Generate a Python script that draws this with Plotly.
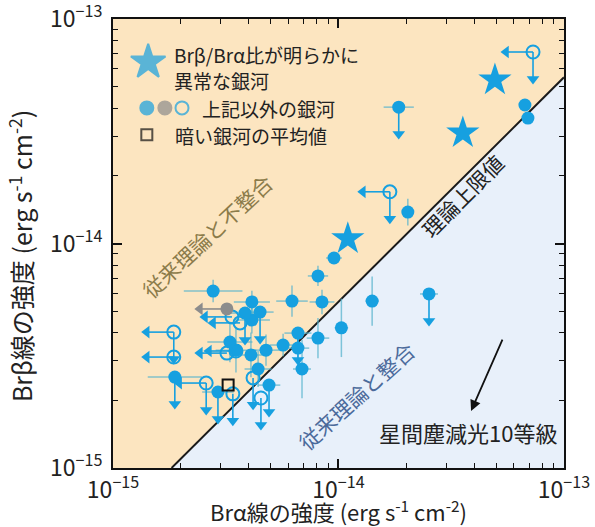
import plotly.graph_objects as go

UNIT = 1e-15          # all intensities below are in units of 1e-15 erg s^-1 cm^-2
RATIO = 0.55          # theoretical upper limit of Brβ/Brα
ARROW_DEX = 0.12      # length of upper-limit arrows in dex

# Galaxies with a clearly anomalous Brβ/Brα ratio
star_bra = [11.0, 35.6, 49.4]
star_brb = [10.5, 31.1, 53.5]

# Other galaxies: detections in both lines (errors in dex)
det_bra = [67.1, 69.2, 20.3, 9.55, 8.11, 6.22, 8.45, 14.1, 4.13, 10.3, 8.11, 5.68, 6.61,
           4.77, 6.89, 2.78, 4.13, 3.30, 3.51, 4.09, 4.40]
det_brb = [41.4, 36.2, 13.8, 8.62, 7.17, 5.54, 5.49, 5.54, 5.49, 4.21, 3.79, 3.53, 3.42,
           3.35, 2.76, 6.14, 4.56, 3.64, 3.35, 3.19, 2.76]
det_xerr = [0.02, 0.02, 0.00, 0.035, 0.045, 0.07, 0.055, 0.03, 0.08, 0.03, 0.05, 0.06, 0.05,
            0.07, 0.04, 0.13, 0.08, 0.10, 0.09, 0.08, 0.06]
det_yerr = [0.02, 0.02, 0.06, 0.00, 0.045, 0.07, 0.055, 0.11, 0.05, 0.13, 0.09, 0.05, 0.05,
            0.07, 0.13, 0.05, 0.06, 0.09, 0.10, 0.10, 0.08]

# Other galaxies: Brβ upper limits
ulb_bra = [18.5, 25.2, 4.49, 6.61, 4.92, 3.85, 1.88, 2.92]
ulb_brb = [40.5, 5.96, 4.95, 3.99, 2.34, 4.90, 2.54, 2.18]
ulb_xerr = [0.067, 0.04, 0.06, 0.06, 0.05, 0.07, 0.12, 0.07]

# Other galaxies: open symbols (Brα upper limit and/or Brβ upper limit)
open_bra = [72.9, 16.9, 3.37, 3.66, 1.86, 1.86, 3.20, 3.51, 2.59, 3.40, 4.53, 4.18]
open_brb = [71.3, 17.0, 4.71, 4.43, 4.03, 3.12, 3.25, 3.32, 2.39, 2.14, 2.05, 2.52]
open_left = [1, 1, 1, 1, 1, 1, 1, 1, 1, 0, 0, 0]
open_down = [1, 1, 0, 0, 1, 0, 0, 0, 1, 1, 1, 1]

# Other galaxy shown in grey (Brα upper limit)
grey_bra = [3.20]
grey_brb = [5.11]

# Mean of the faint galaxies
mean_bra = [3.24]
mean_brb = [2.34]

# Extinction vector for 10 mag of interstellar dust (log10 of intensity)
ext_tail = (-13.270, -14.421)
ext_head = (-13.412, -14.746)

BLUE = "#16a0e0"
GREY = "#8c8c8c"
ERR = "rgba(90,180,205,0.75)"
FONT = "Noto Sans CJK JP, Noto Sans, sans-serif"

XMIN, XMAX = 1e-15, 1e-13
YMIN, YMAX = 1e-15, 1e-13


def scale(v):
    return [a * UNIT for a in v]


def asym(vals, dex):
    up = [v * UNIT * (10 ** d - 1) for v, d in zip(vals, dex)]
    lo = [v * UNIT * (1 - 10 ** -d) for v, d in zip(vals, dex)]
    return up, lo


fig = go.Figure()

# Regions above / below the theoretical limit
x0 = YMIN / RATIO
fig.add_trace(go.Scatter(
    x=[XMIN, x0, XMAX, XMAX, XMIN], y=[YMIN, YMIN, RATIO * XMAX, YMAX, YMAX],
    fill="toself", fillcolor="#fce5c0", line=dict(width=0), mode="lines",
    hoverinfo="skip", showlegend=False))
fig.add_trace(go.Scatter(
    x=[x0, XMAX, XMAX, x0], y=[YMIN, YMIN, RATIO * XMAX, YMIN],
    fill="toself", fillcolor="#e8f0fa", line=dict(width=0), mode="lines",
    hoverinfo="skip", showlegend=False))
# Theoretical upper limit line
fig.add_trace(go.Scatter(
    x=[x0, XMAX], y=[YMIN, RATIO * XMAX], mode="lines",
    line=dict(color="#1a1a1a", width=2), hoverinfo="skip", showlegend=False))


def add_arrows(xs, ys, direction, color):
    lx, ly, tx, ty = [], [], [], []
    f = 10 ** -ARROW_DEX
    for x, y in zip(xs, ys):
        x, y = x * UNIT, y * UNIT
        if direction == "down":
            ex, ey = x, y * f
        else:
            ex, ey = x * f, y
        lx += [x, ex, None]
        ly += [y, ey, None]
        tx.append(ex)
        ty.append(ey)
    fig.add_trace(go.Scatter(x=lx, y=ly, mode="lines", line=dict(color=color, width=1.6),
                             hoverinfo="skip", showlegend=False))
    fig.add_trace(go.Scatter(
        x=tx, y=ty, mode="markers",
        marker=dict(symbol="triangle-down" if direction == "down" else "triangle-left",
                    size=11, color=color, line=dict(width=0)),
        hoverinfo="skip", showlegend=False))


# Detections with error bars
dxu, dxl = asym(det_bra, det_xerr)
dyu, dyl = asym(det_brb, det_yerr)
fig.add_trace(go.Scatter(
    x=scale(det_bra), y=scale(det_brb), mode="markers",
    marker=dict(color=BLUE, size=13),
    error_x=dict(type="data", array=dxu, arrayminus=dxl, color=ERR, thickness=1.5, width=0),
    error_y=dict(type="data", array=dyu, arrayminus=dyl, color=ERR, thickness=1.5, width=0),
    showlegend=False))

# Brβ upper limits (filled)
uxu, uxl = asym(ulb_bra, ulb_xerr)
add_arrows(ulb_bra, ulb_brb, "down", BLUE)
fig.add_trace(go.Scatter(
    x=scale(ulb_bra), y=scale(ulb_brb), mode="markers",
    marker=dict(color=BLUE, size=13),
    error_x=dict(type="data", array=uxu, arrayminus=uxl, color=ERR, thickness=1.5, width=0),
    showlegend=False))

# Open symbols with arrows
add_arrows([x for x, k in zip(open_bra, open_left) if k],
           [y for y, k in zip(open_brb, open_left) if k], "left", BLUE)
add_arrows([x for x, k in zip(open_bra, open_down) if k],
           [y for y, k in zip(open_brb, open_down) if k], "down", BLUE)
fig.add_trace(go.Scatter(
    x=scale(open_bra), y=scale(open_brb), mode="markers",
    marker=dict(symbol="circle-open", color=BLUE, size=13, line=dict(width=2)),
    showlegend=False))

# Grey galaxy
add_arrows(grey_bra, grey_brb, "left", GREY)
fig.add_trace(go.Scatter(
    x=scale(grey_bra), y=scale(grey_brb), mode="markers",
    marker=dict(color=GREY, size=13), showlegend=False))

# Anomalous galaxies
fig.add_trace(go.Scatter(
    x=scale(star_bra), y=scale(star_brb), mode="markers",
    marker=dict(symbol="star", color=BLUE, size=25, line=dict(width=0)),
    showlegend=False))

# Mean of faint galaxies
fig.add_trace(go.Scatter(
    x=scale(mean_bra), y=scale(mean_brb), mode="markers",
    marker=dict(symbol="square-open", color="#111111", size=11, line=dict(width=2)),
    showlegend=False))

# Legend keys on an overlay axis spanning the plot area
key_x = [0.078, 0.075, 0.115, 0.153, 0.075]
key_y = [0.904, 0.802, 0.802, 0.802, 0.742]
key_sym = ["star", "circle", "circle", "circle-open", "square-open"]
key_col = [BLUE, BLUE, GREY, BLUE, "#111111"]
key_size = [26, 13, 13, 13, 11]
fig.add_trace(go.Scatter(
    x=key_x, y=key_y, xaxis="x2", yaxis="y2", mode="markers",
    marker=dict(symbol=key_sym, color=key_col, size=key_size,
                line=dict(width=2, color=key_col)),
    hoverinfo="skip", showlegend=False))

ticks = [1e-15, 1e-14, 1e-13]
ticktext = ["10<sup>−15</sup>", "10<sup>−14</sup>", "10<sup>−13</sup>"]
axis_common = dict(
    type="log", tickvals=ticks, ticktext=ticktext, ticks="inside", ticklen=9,
    tickwidth=1.5, tickcolor="#111111", showline=True, linecolor="#111111",
    linewidth=2, mirror="ticks", showgrid=False, zeroline=False, automargin=False,
    ticklabeloverflow="allow",
    tickfont=dict(family=FONT, size=23, color="#222222"),
    minor=dict(ticks="inside", ticklen=5, tickwidth=1.2, tickcolor="#111111",
               dtick="D1", showgrid=False),
)

fig.update_layout(
    width=595, height=527,
    margin=dict(l=113, r=31, t=19, b=59),
    paper_bgcolor="white", plot_bgcolor="white",
    font=dict(family=FONT, color="#222222"),
    xaxis=dict(axis_common, range=[-15, -12.9999], ticklabelstandoff=0),
    yaxis=dict(axis_common, range=[-15, -12.9999], ticklabelstandoff=4),
    xaxis2=dict(overlaying="x", range=[0, 1], visible=False),
    yaxis2=dict(overlaying="y", range=[0, 1], visible=False),
)

ann = [
    dict(text="Brβ/Brα比が明らかに", x=0.131, y=0.920, xanchor="left", size=19, color="#222222", angle=0),
    dict(text="異常な銀河", x=0.131, y=0.864, xanchor="left", size=19, color="#222222", angle=0),
    dict(text="上記以外の銀河", x=0.193, y=0.800, xanchor="left", size=19, color="#222222", angle=0),
    dict(text="暗い銀河の平均値", x=0.133, y=0.740, xanchor="left", size=19, color="#222222", angle=0),
    dict(text="従来理論と不整合", x=0.208, y=0.517, xanchor="center", size=21, color="#8b7b4a", angle=-43),
    dict(text="従来理論と整合", x=0.539, y=0.160, xanchor="center", size=21, color="#4b6a9b", angle=-42),
    dict(text="理論上限値", x=0.774, y=0.606, xanchor="center", size=21, color="#222222", angle=-45),
    dict(text="星間塵減光10等級", x=0.787, y=0.080, xanchor="center", size=22, color="#222222", angle=0),
    # axis titles
    dict(text="Brα線の強度 (erg s<sup>-1</sup> cm<sup>-2</sup>)", x=0.500, y=-0.094,
         xanchor="center", size=22, color="#222222", angle=0),
    dict(text="Brβ線の強度 (erg s<sup>-1</sup> cm<sup>-2</sup>)", x=-0.204, y=0.472,
         xanchor="center", size=25, color="#222222", angle=-90),
]
for a in ann:
    fig.add_annotation(text=a["text"], x=a["x"], y=a["y"], xref="paper", yref="paper",
                       xanchor=a["xanchor"], yanchor="middle", showarrow=False, align="left",
                       textangle=a["angle"], font=dict(family=FONT, size=a["size"], color=a["color"]))

fig.add_annotation(x=ext_head[0], y=ext_head[1], ax=ext_tail[0], ay=ext_tail[1],
                   xref="x", yref="y", axref="x", ayref="y", text="", showarrow=True,
                   arrowhead=2, arrowsize=1.2, arrowwidth=1.8, arrowcolor="#111111")

fig.write_html("out.html")
